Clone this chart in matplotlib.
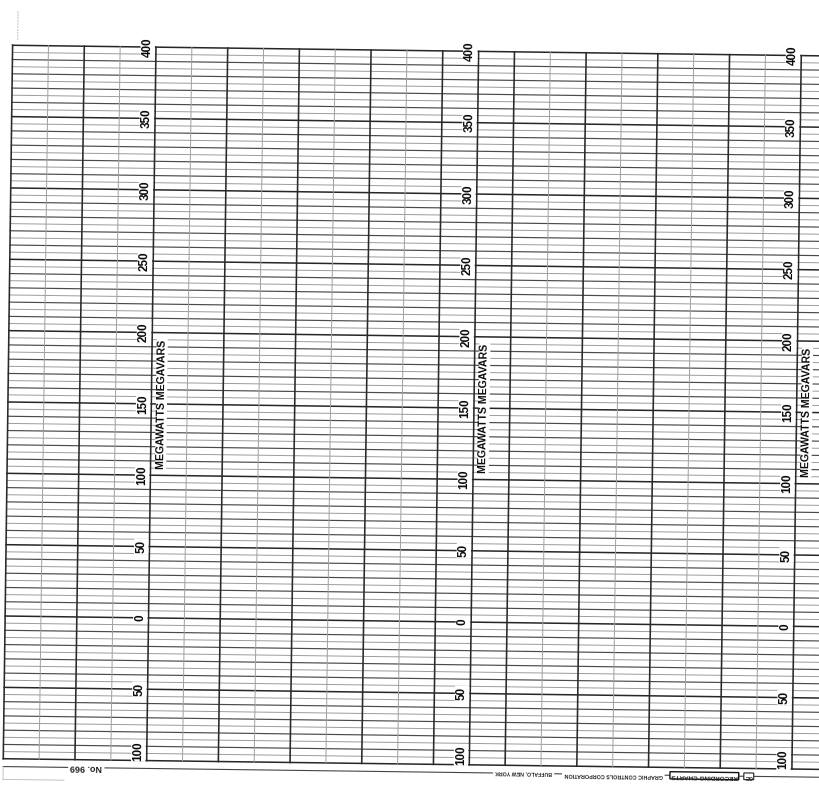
import matplotlib.pyplot as plt
import matplotlib.transforms as mtransforms
import numpy as np

# chart paper scale (printed values, negative part is labelled without sign)
y_min, y_max = -100, 400
label_values = [400, 350, 300, 250, 200, 150, 100, 50, 0, -50, -100]
label_texts = ['400', '350', '300', '250', '200', '150', '100', '50', '0', '50', '100']
label_columns = [2, 6.5, 11]
title_text = 'MEGAWATTS MEGAVARS'
title_value = 150
n_hours = 11.6
chart_no = 'No. 969'
maker_city = 'BUFFALO, NEW YORK'
maker_name = 'GRAPHIC CONTROLS CORPORATION'
maker_brand = 'RECORDING CHARTS'

W, H = 819, 799
fig = plt.figure(figsize=(W / 100, H / 100), dpi=100)
fig.patch.set_facecolor('white')
ax = fig.add_axes([8 / W, 35 / H, (n_hours * 71.7) / W, 713.5 / H])
ax.set_xlim(0, n_hours)
ax.set_ylim(y_min, y_max)
ax.axis('off')

# the scan is tilted a little clockwise
rot = mtransforms.Affine2D().rotate_deg_around(410, 399, -0.75)
tr = ax.transData + rot
tilt = -0.75

font = ['Liberation Sans', 'DejaVu Sans']

# horizontal grid, every 5 units
for v in np.arange(y_min, y_max + 1, 5):
    if v % 50 == 0:
        lw, c = 1.1, '#262626'
    elif v % 10 == 0:
        lw, c = 0.85, '#4a4a4a'
    else:
        lw, c = 0.7, '#9c9c9c'
    ax.plot([0, n_hours + 1], [v, v], color=c, lw=lw, transform=tr, clip_on=False, zorder=1)

# vertical (time) grid, every half hour
for t in np.arange(0, n_hours + 1, 0.5):
    if t % 1 == 0 or t in label_columns:
        lw, c = 1.15, '#2a2a2a'
    else:
        lw, c = 0.7, '#a0a0a0'
    ax.plot([t, t], [y_min, y_max], color=c, lw=lw, transform=tr, clip_on=False, zorder=2)

# scale labels on each column
for col in label_columns:
    for v, s in zip(label_values, label_texts):
        va = 'bottom' if v == y_min else 'center'
        ax.text(col - 0.03, v, s, transform=tr, rotation=90 + tilt, ha='right', va=va,
                family=font, fontsize=8.4, fontweight='bold', color='#0a0a0a', zorder=4,
                bbox=dict(facecolor='white', edgecolor='none', pad=0.8))
    ax.text(col + 0.06, title_value, title_text, transform=tr, rotation=90 + tilt,
            ha='left', va='center', family=font, fontsize=7.6, fontweight='bold',
            color='#0a0a0a', zorder=4,
            bbox=dict(facecolor='white', edgecolor='none', pad=0.4))

# footer line with upside-down printing
foot = y_min - 5.5
ax.plot([0, n_hours + 1], [foot, foot], color='#444444', lw=0.8, transform=tr, clip_on=False)
ax.plot([0, 0], [foot, foot - 9], color='#bbbbbb', lw=0.6, transform=tr, clip_on=False)
ax.plot([0, 0.85], [foot - 9, foot - 9], color='#bbbbbb', lw=0.6, transform=tr, clip_on=False)
ax.plot([0.07, 0.07], [y_max + 4, y_max + 24], color='#bbbbbb', lw=0.7, ls=(0, (2, 1)),
        transform=tr, clip_on=False)

footer_items = [
    (1.16, chart_no, 6.5, None),
    (7.26, maker_city, 3.8, None),
    (8.51, maker_name, 3.9, None),
    (9.78, maker_brand, 4.6, '#111111'),
]
for x, s, fs, edge in footer_items:
    box = dict(facecolor='white', edgecolor='none', pad=1.5)
    if edge:
        box = dict(facecolor='white', edgecolor=edge, lw=1.0, pad=0.8)
    ax.text(x, foot, s, transform=tr, rotation=180 + tilt, ha='center', va='center',
            family=font, fontsize=fs, fontweight='bold', color='#222222', zorder=4, bbox=box)
ax.text(10.40, foot, 'GC', transform=tr, rotation=180 + tilt, ha='center', va='center',
        family=font, fontsize=4.0, fontweight='bold', color='#222222', zorder=4,
        bbox=dict(facecolor='white', edgecolor='#222222', lw=0.8, pad=0.6))

fig.savefig('out.png', dpi=100, facecolor='white')
